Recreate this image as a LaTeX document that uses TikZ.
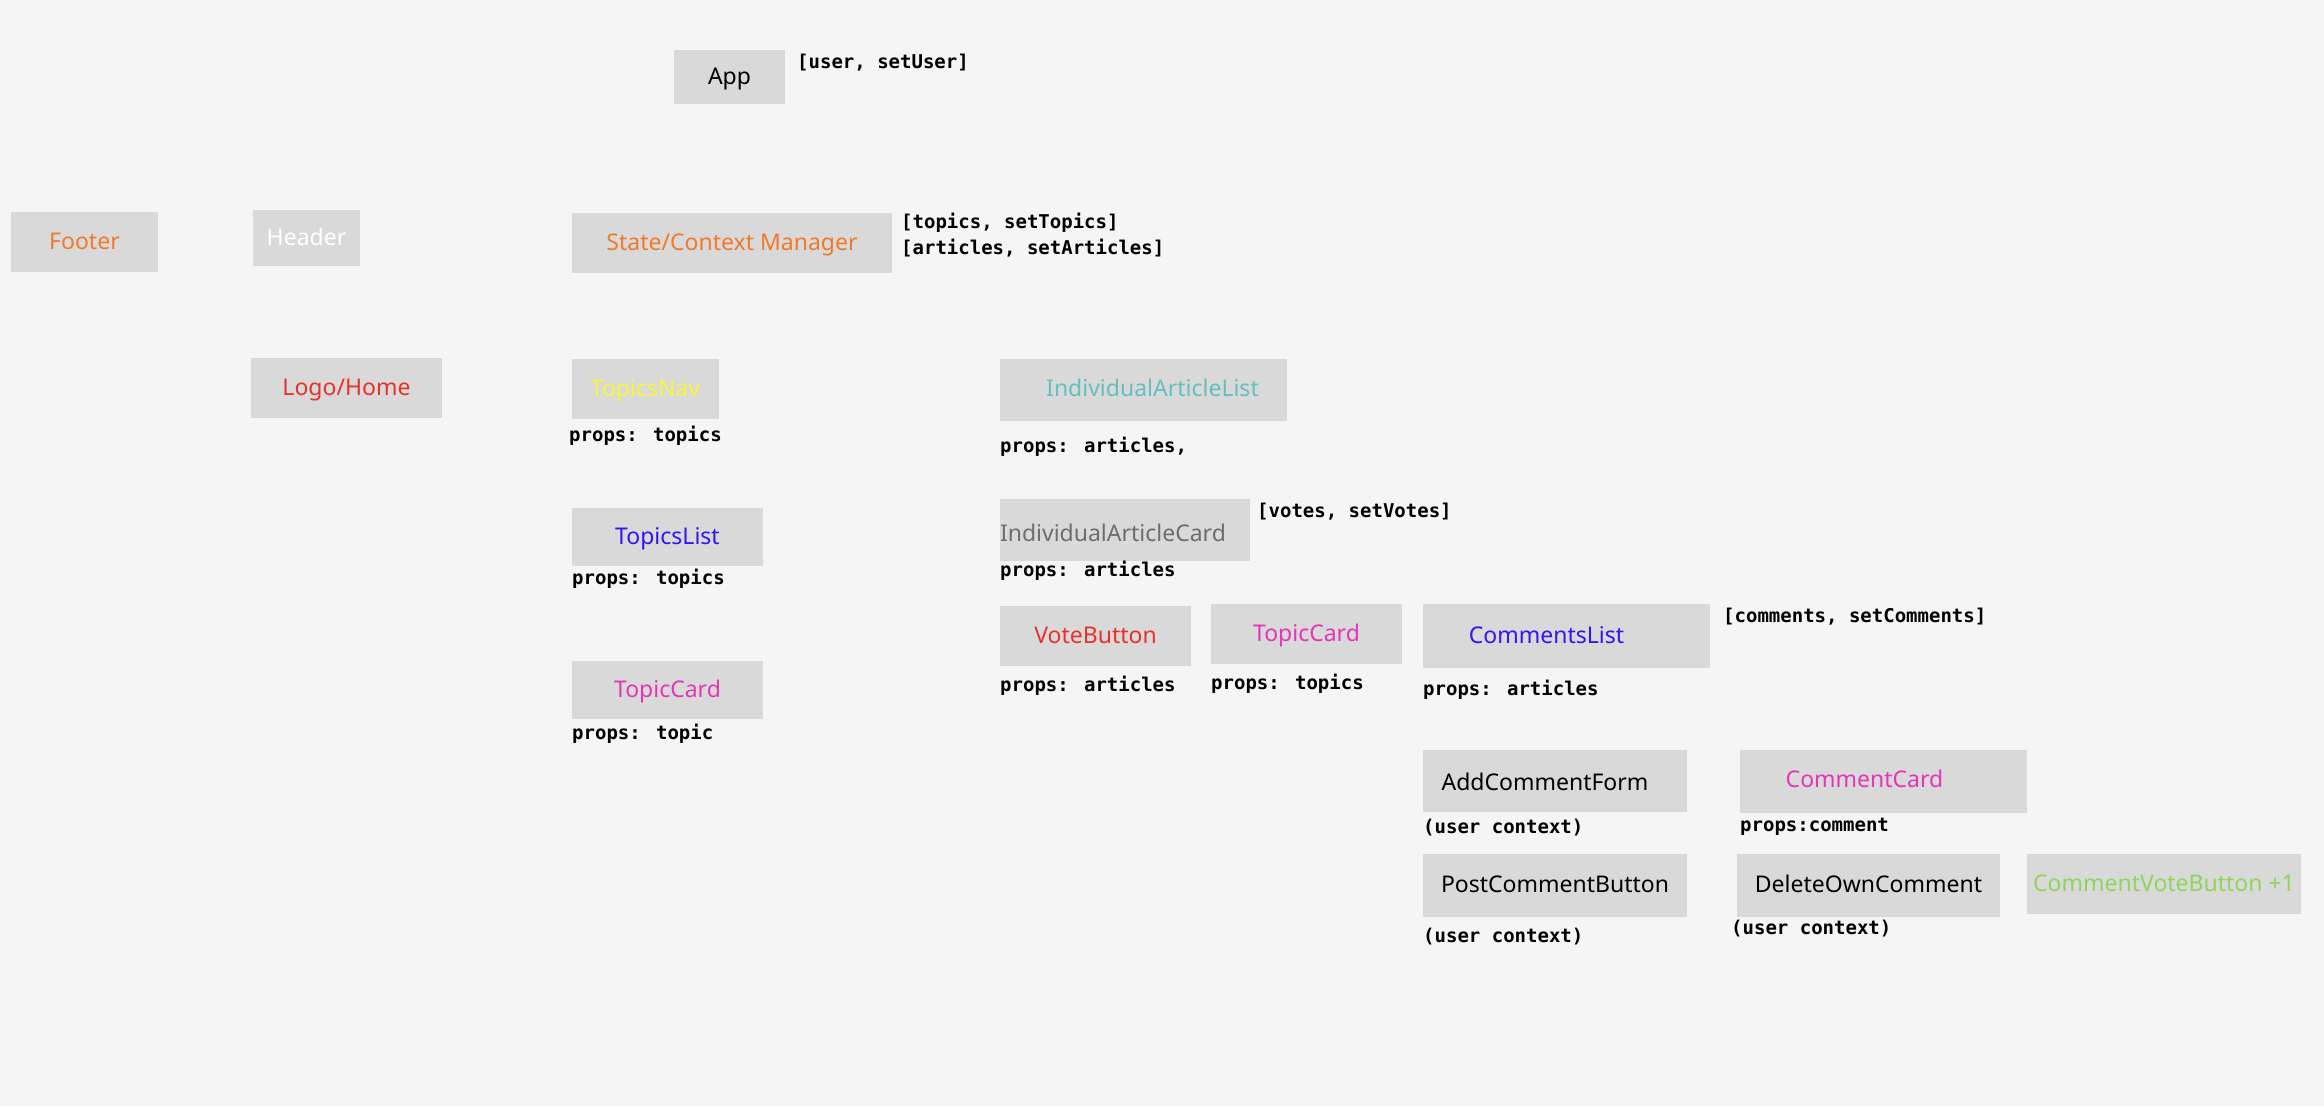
\documentclass[tikz,border=0pt]{standalone}
\usepackage{fontspec}
\setmainfont{Noto Sans}
\newfontfamily\codefont{DejaVu Sans Mono}
\definecolor{bg}{HTML}{F5F5F5}
\definecolor{boxfill}{HTML}{D9D9D9}
\definecolor{corange}{HTML}{F07A2A}
\definecolor{cred}{HTML}{E8312B}
\definecolor{cyellow}{HTML}{F8F83A}
\definecolor{cteal}{HTML}{66BFBF}
\definecolor{cblue}{HTML}{3214F5}
\definecolor{cgray}{HTML}{6E6E6E}
\definecolor{cmagenta}{HTML}{E535B8}
\definecolor{cgreen}{HTML}{8ED65A}
\newcommand\compfont{\fontsize{23}{27}\selectfont}
\tikzset{
  comp/.style={fill=boxfill, draw=none, inner sep=0pt, font=\compfont, text height=17pt, text depth=3pt},
  inlabel/.style={font=\compfont},
  note/.style={anchor=west, inner sep=0pt, font=\codefont\bfseries\fontsize{19}{22}\selectfont},
}
\begin{document}
\begin{tikzpicture}[x=1pt, y=-1pt]
  \useasboundingbox (0,0) rectangle (2324,1106);
  \fill[bg] (0,0) rectangle (2324,1106);

  % top level
  \node[comp, minimum width=111pt, minimum height=54pt] (app) at (729.5,77) {App};
  \node[note] (appstate) at (797,63) {[user, setUser]};

  % layout row
  \node[comp, text=corange, minimum width=147pt, minimum height=60pt] (footer) at (84.5,242) {Footer};
  \node[comp, text=white, minimum width=107pt, minimum height=56pt] (header) at (306.5,238) {Header};
  \node[comp, text=corange, minimum width=320pt, minimum height=60pt] (state) at (732,243) {State/Context Manager};
  \node[note] (topicsstate) at (901,223) {[topics, setTopics]};
  \node[note] (articlesstate) at (901,248) {[articles, setArticles]};

  \node[comp, text=cred, minimum width=191pt, minimum height=60pt] (logo) at (346.5,388) {Logo/Home};

  % topics column
  \node[comp, text=cyellow, minimum width=147pt, minimum height=60pt] (topicsnav) at (645.5,389) {TopicsNav};
  \node[note] (topicsnavprops) at (569,436) {props: topics};
  \node[comp, text=cblue, minimum width=191pt, minimum height=58pt] (topicslist) at (667.5,537) {TopicsList};
  \node[note] (topicslistprops) at (572,579) {props: topics};
  \node[comp, text=cmagenta, minimum width=191pt, minimum height=58pt] (topiccardA) at (667.5,690) {TopicCard};
  \node[note] (topiccardAprops) at (572,734) {props: topic};

  % articles column
  \node[comp, minimum width=287pt, minimum height=62pt,
        label={[inlabel, text=cteal, xshift=9pt, yshift=2pt]center:IndividualArticleList}] (articlelist) at (1143.5,390) {};
  \node[note] (articlelistprops) at (1000,447) {props: articles,};
  \node[comp, minimum width=250pt, minimum height=62pt,
        label={[inlabel, text=cgray, anchor=west, inner sep=0pt, yshift=-3pt]west:IndividualArticleCard}] (articlecard) at (1125,530) {};
  \node[note] (votesstate) at (1257,512) {[votes, setVotes]};
  \node[note] (articlecardprops) at (1000,571) {props: articles};

  \node[comp, text=cred, minimum width=191pt, minimum height=60pt] (votebutton) at (1095.5,636) {VoteButton};
  \node[note] (votebuttonprops) at (1000,686) {props: articles};
  \node[comp, text=cmagenta, minimum width=191pt, minimum height=60pt] (topiccardB) at (1306.5,634) {TopicCard};
  \node[note] (topiccardBprops) at (1211,684) {props: topics};
  \node[comp, minimum width=287pt, minimum height=64pt,
        label={[inlabel, text=cblue, xshift=-20pt, yshift=1pt]center:CommentsList}] (commentslist) at (1566.5,636) {};
  \node[note] (commentsstate) at (1723,617) {[comments, setComments]};
  \node[note] (commentslistprops) at (1423,690) {props: articles};

  % comments
  \node[comp, minimum width=264pt, minimum height=62pt,
        label={[inlabel, xshift=-10pt, yshift=-1pt]center:AddCommentForm}] (addcomment) at (1555,781) {};
  \node[note] (addcommentctx) at (1423,828) {(user context)};
  \node[comp, minimum width=287pt, minimum height=63pt,
        label={[inlabel, text=cmagenta, xshift=-19pt, yshift=3pt]center:CommentCard}] (commentcard) at (1883.5,781.5) {};
  \node[note] (commentcardprops) at (1740,827) {props:comment};

  \node[comp, minimum width=264pt, minimum height=63pt] (postcomment) at (1555,885.5) {PostCommentButton};
  \node[note] (postcommentctx) at (1423,937) {(user context)};
  \node[comp, minimum width=263pt, minimum height=63pt] (deleteown) at (1868.5,885.5) {DeleteOwnComment};
  \node[note] (deleteownctx) at (1731,929) {(user context)};
  \node[comp, text=cgreen, minimum width=274pt, minimum height=60pt] (commentvote) at (2164,884) {CommentVoteButton +1};
\end{tikzpicture}
\end{document}
